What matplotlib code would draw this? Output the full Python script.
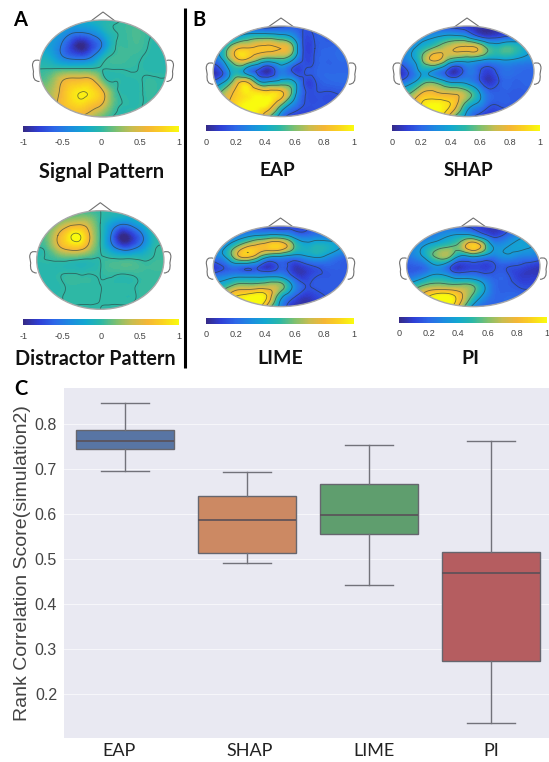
import matplotlib
matplotlib.use('Agg')
import matplotlib.pyplot as plt
import numpy as np
import matplotlib.tri as mtri
from matplotlib.cm import ScalarMappable
from matplotlib.colors import LinearSegmentedColormap, Normalize
from matplotlib.patches import Ellipse, Polygon, PathPatch
from matplotlib.path import Path

W, H = 549, 762

# Topographic maps: values read by eye, 9 rows (front to back) x 13 columns (left to right)
signal_vals = [
    [-.20, -.20, -.20, -.20, -.20, -.12, -.06, -.03, .02, .04, .02, -.01, -.02],
    [-.20, -.22, -.30, -.45, -.48, -.40, -.20, -.02, .03, .07, .03, -.01, -.02],
    [-.20, -.28, -.48, -.80, -1.0, -.75, -.45, -.05, .03, .06, .02, -.03, -.04],
    [-.12, -.20, -.45, -.62, -.68, -.50, -.15, .03, .05, .03, -.01, -.03, -.04],
    [-.004, -.004, -.004, -.004, -.004, .004, .006, .006, .006, .006, -.02, -.03, -.03],
    [.10, .18, .45, .60, .62, .55, .12, -.01, -.02, -.02, .01, .01, .01],
    [.20, .30, .55, .82, .92, .85, .55, .10, -.02, -.03, .01, .01, .01],
    [.20, .30, .58, .75, .80, .65, .45, .10, -.01, -.02, .01, .01, .01],
    [.10, .15, .30, .45, .45, .30, .10, -.01, -.01, .00, .01, .01, .01],
]
distractor_vals = [
    [.01, .01, .02, .03, .03, .02, .00, -.02, -.03, -.03, -.02, -.01, -.01],
    [.02, .05, .20, .35, .42, .30, .00, -.25, -.42, -.35, -.15, -.02, .00],
    [.03, .15, .50, .85, .98, .50, .00, -.50, -1.0, -.85, -.50, -.08, -.01],
    [.01, .08, .40, .62, .65, .35, .00, -.35, -.65, -.60, -.35, -.05, .00],
    [-.01, .00, .02, .02, -.01, -.02, .00, .03, .03, .03, -.01, .02, .03],
    [-.02, -.02, -.02, -.01, -.02, -.01, .00, .03, .02, .03, .03, .03, .03],
    [-.02, -.02, -.02, .01, .01, .01, .00, -.01, -.01, -.01, .02, .03, .03],
    [-.02, -.02, -.01, .01, .01, .01, .00, -.01, -.01, -.01, .02, .03, .03],
    [-.02, -.02, -.02, -.01, -.01, -.01, .00, .01, .01, .02, .03, .03, .03],
]
eap_vals = [
    [.20, .20, .20, .16, .10, .10, .13, .16, .16, .17, .17, .17, .17],
    [.20, .25, .35, .45, .50, .50, .45, .35, .14, .16, .17, .18, .18],
    [.25, .45, .76, .82, .84, .84, .80, .60, .14, .15, .19, .20, .20],
    [.20, .40, .72, .75, .55, .45, .50, .36, .14, .16, .19, .20, .20],
    [.06, .20, .45, .28, .12, .05, .25, .145, .14, .18, .20, .20, .20],
    [.20, .38, .70, .82, .45, .40, .45, .42, .15, .14, .19, .20, .20],
    [.45, .65, .85, .95, .95, .93, .86, .50, .17, .14, .14, .15, .16],
    [.55, .75, .90, 1.0, 1.0, .90, .55, .28, .15, .14, .14, .14, .15],
    [.60, .75, .90, 1.0, .88, .55, .25, .10, .08, .11, .14, .16, .18],
]
shap_vals = [
    [.20, .20, .20, .16, .13, .10, .08, .07, .07, .10, .13, .16, .20],
    [.25, .25, .30, .34, .40, .42, .36, .20, .12, .15, .20, .28, .33],
    [.25, .32, .45, .58, .68, .76, .78, .74, .52, .50, .52, .42, .35],
    [.20, .32, .55, .78, .62, .44, .42, .38, .32, .34, .34, .30, .28],
    [.05, .20, .38, .32, .18, .05, .22, .18, .10, .20, .22, .20, .20],
    [.20, .32, .50, .55, .42, .35, .32, .20, .07, .17, .19, .19, .20],
    [.50, .58, .78, .80, .76, .74, .62, .40, .20, .18, .17, .17, .17],
    [.55, .75, .92, 1.0, .95, .78, .45, .30, .16, .16, .17, .18, .18],
    [.55, .75, .90, .98, .85, .50, .30, .10, .07, .07, .10, .15, .18],
]
lime_vals = [
    [.20, .20, .20, .20, .15, .12, .10, .12, .15, .18, .20, .20, .20],
    [.20, .22, .25, .32, .38, .42, .42, .32, .22, .25, .25, .25, .25],
    [.25, .32, .52, .72, .80, .86, .86, .62, .42, .44, .44, .38, .30],
    [.25, .35, .66, .82, .62, .40, .36, .30, .32, .38, .34, .25, .20],
    [.08, .16, .24, .20, .16, .07, .17, .10, .09, .15, .18, .18, .16],
    [.22, .27, .32, .32, .32, .33, .32, .17, .08, .14, .16, .17, .16],
    [.42, .48, .62, .64, .66, .68, .62, .36, .17, .16, .17, .17, .17],
    [.55, .72, .90, .96, 1.0, .82, .42, .20, .08, .10, .15, .17, .17],
    [.55, .72, .92, 1.0, .95, .62, .30, .07, .05, .08, .14, .17, .17],
]
pi_vals = [
    [.20, .20, .20, .20, .20, .15, .12, .10, .08, .10, .15, .20, .25],
    [.20, .22, .25, .30, .36, .40, .38, .22, .12, .20, .30, .35, .35],
    [.25, .30, .40, .48, .54, .66, .88, .60, .32, .34, .38, .36, .33],
    [.22, .30, .46, .62, .54, .32, .38, .30, .26, .32, .28, .26, .22],
    [.16, .18, .26, .32, .15, .08, .12, .10, .15, .16, .14, .10, .07],
    [.20, .26, .36, .40, .32, .27, .26, .20, .18, .17, .10, .08, .08],
    [.36, .52, .62, .64, .62, .62, .56, .36, .20, .18, .15, .13, .15],
    [.52, .72, .90, 1.0, .96, .76, .50, .30, .20, .20, .20, .20, .20],
    [.52, .72, .92, 1.0, .92, .62, .30, .18, .18, .20, .20, .20, .20],
]

# Boxplot values
methods = ['EAP', 'SHAP', 'LIME', 'PI']
whisker_low = [.695, .491, .443, .137]
q1_vals = [.745, .514, .555, .275]
median_vals = [.762, .587, .599, .469]
q3_vals = [.787, .640, .666, .515]
whisker_high = [.847, .693, .753, .763]
box_colors = ['#5875a4', '#cc8963', '#5f9e6e', '#b55d60']
y_ticks = [.2, .3, .4, .5, .6, .7, .8]

parula = LinearSegmentedColormap.from_list('parula', [
    '#352a87', '#2f3fd6', '#2d68e8', '#1c8be0', '#12a8d0', '#2cb8a6',
    '#7fc06f', '#c9bd50', '#f5b635', '#fbd31f', '#f9fb0e'])


def px_axes(x0, y0, x1, y1):
    # Ejes a partir de coordenadas en píxeles (origen arriba a la izquierda)
    return fig.add_axes([x0 / W, 1 - y1 / H, (x1 - x0) / W, (y1 - y0) / H])


def head(vals, cx, cy, rx, ry, vmin, vmax, levels):
    z = np.array(vals, dtype=float)
    gx = np.linspace(cx - rx, cx + rx, z.shape[1])
    gy = np.linspace(cy - ry, cy + ry, z.shape[0])
    xx, yy = np.meshgrid(gx, gy)
    tri = mtri.Triangulation(xx.ravel(), yy.ravel())
    fine_tri, fine_z = mtri.UniformTriRefiner(tri).refine_field(z.ravel(), subdiv=4)

    clip = Ellipse((cx, cy), 2 * rx, 2 * ry, fc='none', ec='#a8a8a8', lw=1.0, zorder=4)
    canvas.add_patch(clip)
    filled = canvas.tricontourf(fine_tri, fine_z, levels=np.linspace(vmin, vmax, 80),
                                cmap=parula, extend='both', zorder=2)
    filled.set_clip_path(clip)
    lines = canvas.tricontour(fine_tri, fine_z, levels=levels, colors='#2c3a3a',
                              linewidths=0.6, linestyles='solid', alpha=0.65, zorder=3)
    lines.set_clip_path(clip)

    # Nariz y orejas
    top = cy - ry
    canvas.add_patch(Polygon([[cx - 0.19 * rx, top + 1], [cx, top - 8], [cx + 0.19 * rx, top + 1]],
                             closed=False, fc='none', ec='#707070', lw=0.8, zorder=1))
    for s in (-1, 1):
        ex = cx + s * rx
        verts = [(ex, cy - 8), (ex + s * 7, cy - 10), (ex + s * 7, cy - 3), (ex + s * 6, cy + 3),
                 (ex + s * 7.5, cy + 13), (ex, cy + 13)]
        codes = [Path.MOVETO, Path.CURVE3, Path.CURVE3, Path.LINETO, Path.CURVE3, Path.CURVE3]
        canvas.add_patch(PathPatch(Path(verts, codes), fc='none', ec='#707070', lw=0.8, zorder=1))


def colorbar(x0, x1, y0, y1, vmin, vmax, ticks, labels):
    cax = px_axes(x0, y0, x1, y1)
    cb = fig.colorbar(ScalarMappable(Normalize(vmin, vmax), parula), cax=cax, orientation='horizontal')
    cb.set_ticks(ticks, labels=labels)
    cb.outline.set_visible(False)
    cax.tick_params(length=0, labelsize=6.6, pad=4.5, labelcolor='#444444')
    for t in cax.get_xticklabels():
        t.set_family('Liberation Sans')


fig = plt.figure(figsize=(W / 100, H / 100), dpi=100, facecolor='white')

canvas = fig.add_axes([0, 0, 1, 1])
canvas.set_xlim(0, W)
canvas.set_ylim(H, 0)
canvas.axis('off')

b_levels = [.15, .35, .55, .75, .9]
head(signal_vals, 103, 68.5, 63.5, 48.5, -1, 1, [-.5, 0, .5, .91])
head(distractor_vals, 100.3, 260, 63.6, 49.3, -1, 1, [-.5, 0, .5, .95])
head(eap_vals, 281, 71.3, 67.8, 45.3, 0, 1, [.15, .35, .55, .8])
head(shap_vals, 467, 71.3, 67, 45.3, 0, 1, b_levels)
head(lime_vals, 280.5, 266.3, 67.2, 40.3, 0, 1, b_levels)
head(pi_vals, 473.3, 266.3, 66.7, 40.3, 0, 1, b_levels)

a_ticks = [-1, -.5, 0, .5, 1]
a_labels = ['-1', '-0.5', '0', '0.5', '1']
b_ticks = [0, .2, .4, .6, .8, 1]
b_labels = ['0', '0.2', '0.4', '0.6', '0.8', '1']
colorbar(23.3, 179, 125.7, 132, -1, 1, a_ticks, a_labels)
colorbar(23.3, 179, 319, 325.3, -1, 1, a_ticks, a_labels)
colorbar(206, 354, 125.3, 131.3, 0, 1, b_ticks, b_labels)
colorbar(391.7, 539.7, 125.3, 131.3, 0, 1, b_ticks, b_labels)
colorbar(206, 354, 318.3, 324, 0, 1, b_ticks, b_labels)
colorbar(399, 546.7, 317, 323, 0, 1, b_ticks, b_labels)

# Línea vertical entre los paneles A y B
canvas.plot([184.5, 184.5], [8, 368], color='black', lw=2.2, solid_capstyle='butt')

# Títulos
title_font = dict(family='Lato', weight='bold', ha='center', va='center', color='#111111')
canvas.text(101.7, 172, 'Signal Pattern', fontsize=14.4, **title_font)
canvas.text(95, 359, 'Distractor Pattern', fontsize=14.2, **title_font)
canvas.text(277.7, 171, 'EAP', fontsize=13.6, **title_font)
canvas.text(468, 171, 'SHAP', fontsize=13.6, **title_font)
canvas.text(280, 359, 'LIME', fontsize=14, **title_font)
canvas.text(470, 358, 'PI', fontsize=14, **title_font)

letter_font = dict(family='Lato', weight='bold', fontsize=14.5, ha='center', va='center', color='black')
canvas.text(20, 20, 'A', **letter_font)
canvas.text(199, 20, 'B', **letter_font)
canvas.text(20.5, 389, 'C', **letter_font)

# Panel C: diagrama de cajas
ax = px_axes(64, 388, 549, 738)
ax.set_facecolor('#e9e9f2')
stats = [dict(whislo=lo, q1=a, med=m, q3=b, whishi=hi)
         for lo, a, m, b, hi in zip(whisker_low, q1_vals, median_vals, q3_vals, whisker_high)]
line_style = dict(color='#72727a', lw=1.0)
parts = ax.bxp(stats, positions=range(4), widths=0.8, capwidths=0.4, patch_artist=True, showfliers=False,
               boxprops=dict(edgecolor='#66666e', lw=1.0), medianprops=dict(color='#5a5058', lw=1.2),
               whiskerprops=line_style, capprops=line_style, zorder=3)
for box, c in zip(parts['boxes'], box_colors):
    box.set_facecolor(c)

ax.set_xlim(-0.5, 3.475)
ax.set_ylim(0.103, 0.88)
ax.set_yticks(y_ticks)
ax.set_yticklabels(['0.2', '0.3', '0.4', '0.5', '0.6', '0.7', '0.8'], family='Liberation Sans', fontsize=11.5, color='#444444')
ax.set_xticks([])
ax.grid(axis='y', color='#f6f6fa', lw=0.8, zorder=1)
ax.set_axisbelow(True)
ax.tick_params(axis='y', length=0, pad=5)
for s in ax.spines.values():
    s.set_visible(False)
ax.set_ylabel('Rank Correlation Score(simulation2)', family='Liberation Sans', fontsize=14, color='#444444', labelpad=3)

for name, x in zip(methods, [119, 250, 374, 491.7]):
    canvas.text(x, 750.7, name, family='Lato', fontsize=13, ha='center', va='center', color='#222222')

fig.savefig('out.png', dpi=100)
